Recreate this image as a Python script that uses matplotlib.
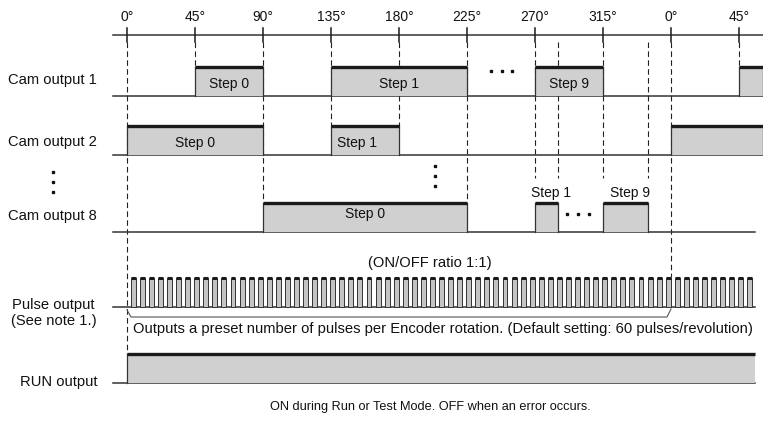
import matplotlib
matplotlib.use("Agg")
import matplotlib.pyplot as plt
from matplotlib.patches import Rectangle

plt.rcParams['font.family'] = ['Liberation Sans', 'DejaVu Sans']

# ---------------- data ----------------
tick_angles = [0, 45, 90, 135, 180, 225, 270, 315, 360, 405]
tick_labels = ["0°", "45°", "90°", "135°", "180°", "225°", "270°", "315°", "0°", "45°"]

END_FULL = 421.0     # right edge of the drawing (degrees)
END_ROW = 415.6      # right end of lower rows

cam1_on = [45, 135, 270, 405]
cam1_off = [90, 225, 315, END_FULL]
cam1_text = ["Step 0", "Step 1", "Step 9", ""]

cam2_on = [0, 135, 360]
cam2_off = [90, 180, END_FULL]
cam2_text = ["Step 0", "Step 1", ""]

cam8_on = [90, 270, 315]
cam8_off = [225, 285, 345]
cam8_text = ["Step 0", "Step 1", "Step 9"]

pulses_per_rev = 60
pulse_start = 2.5
run_on, run_off = 0, END_ROW

row_labels = ["Cam output 1", "Cam output 2", "Cam output 8", "Pulse output", "(See note 1.)", "RUN output"]

# ---------------- layout (pixel rows) ----------------
W, H = 763, 423
PX0, PXD = 127.0, 544.0 / 360.0


def X(px):
    return (px - PX0) / PXD


fig = plt.figure(figsize=(W / 100, H / 100), dpi=100)
ax = fig.add_axes([0, 0, 1, 1])
ax.set_xlim(X(0), X(W))
ax.set_ylim(H, 0)
ax.axis('off')

FS = 10
FSL = 10.6
BAR_FILL = '#d0d0d0'
EDGE = '#333333'
TOP = '#1a1a1a'
BAR_H = 29

AXIS_Y = 35
base = {'c1': 96, 'c2': 155, 'c8': 232, 'p': 307, 'run': 383}

# top axis
ax.plot([X(113), X(W)], [AXIS_Y, AXIS_Y], color=EDGE, lw=1.1)
for a, lab in zip(tick_angles, tick_labels):
    ax.plot([a, a], [AXIS_Y - 7, AXIS_Y + 7], color=TOP, lw=1.1)
    ax.text(a, 17, lab, ha='center', va='center', fontsize=FS, color='#111')

# dashed guide lines (bottom pixel row for each guide angle)
guide_bottom = {0: 354, 45: 66, 90: 202, 135: 126, 180: 126, 225: 202,
                270: 178, 285: 178, 315: 178, 345: 178, 360: 277, 405: 66}
for a, yb in guide_bottom.items():
    ax.plot([a, a], [AXIS_Y + 7, yb], color='#222', lw=0.8,
            dashes=(5, 3), zorder=1)


def draw_bar(y0, a, b, left=True, right=True):
    ax.add_patch(Rectangle((a, y0 - BAR_H), b - a, BAR_H, facecolor=BAR_FILL,
                           edgecolor='none', zorder=2))
    if left:
        ax.plot([a, a], [y0, y0 - BAR_H], color=EDGE, lw=0.9, zorder=3)
    if right:
        ax.plot([b, b], [y0, y0 - BAR_H], color=EDGE, lw=0.9, zorder=3)
    ax.plot([a, b], [y0 - BAR_H, y0 - BAR_H], color=TOP, lw=2.4,
            solid_capstyle='butt', zorder=4)


def draw_row(y0, ons, offs, texts, end, text_x=None):
    ax.plot([X(113), end], [y0, y0], color=EDGE, lw=1.1, zorder=2)
    for i, (a, b, t) in enumerate(zip(ons, offs, texts)):
        draw_bar(y0, a, b)
        if t:
            xc = (a + b) / 2 if text_x is None or text_x[i] is None else text_x[i]
            ax.text(xc, y0 - 12, t, ha='center', va='center', fontsize=FS, color='#111', zorder=5)


draw_row(base['c1'], cam1_on, cam1_off, cam1_text, END_FULL)
draw_row(base['c2'], cam2_on, cam2_off, cam2_text, END_FULL, text_x=[None, 152, None])

# cam 8: step 0 label inside, step 1/9 labels above bars
y8 = base['c8']
ax.plot([X(113), END_ROW], [y8, y8], color=EDGE, lw=1.1, zorder=2)
for a, b, t in zip(cam8_on, cam8_off, cam8_text):
    draw_bar(y8, a, b)
    if b - a > 60:
        ax.text((a + b) / 2, y8 - 18, t, ha='center', va='center', fontsize=FS, color='#111')
    else:
        ax.text((a + b) / 2 + 3, y8 - 39, t, ha='center', va='center', fontsize=FS, color='#111')

# ellipsis dots
ax.plot([241, 248, 255], [71, 71, 71], 's', color='#111', ms=2.0, lw=0)
ax.plot([291.5, 298.5, 305.5], [214, 214, 214], 's', color='#111', ms=2.0, lw=0)
ax.plot([X(53)] * 3, [172, 182, 192], 's', color='#111', ms=2.0, lw=0)
ax.plot([X(435)] * 3, [166, 176, 186], 's', color='#111', ms=2.0, lw=0)

# pulse train
yp = base['p']
ax.plot([X(113), END_ROW], [yp, yp], color=EDGE, lw=1.1, zorder=2)
period = 360.0 / pulses_per_rev
k = 0
while pulse_start + k * period + period * 0.55 <= END_ROW + 0.5:
    a = pulse_start + k * period
    b = a + period * 0.55
    ax.add_patch(Rectangle((a, yp - BAR_H), b - a, BAR_H, facecolor='#c4c4c4',
                           edgecolor='#333', lw=0.7, zorder=2))
    ax.plot([a, b], [yp - BAR_H, yp - BAR_H], color=TOP, lw=2.2,
            solid_capstyle='butt', zorder=4)
    k += 1
ax.text(X(430), 263, "(ON/OFF ratio 1:1)", ha='center', va='center', fontsize=FSL, color='#111')

# brace under pulse train
ax.plot([0, X(131), X(667), 360], [310, 317, 317, 309], color='#555', lw=0.8)
ax.text(X(133), 329, "Outputs a preset number of pulses per Encoder rotation. (Default setting: 60 pulses/revolution)",
        ha='left', va='center', fontsize=FSL, color='#111')

# RUN output
yr = base['run']
ax.plot([X(113), END_ROW], [yr, yr], color=EDGE, lw=1.1, zorder=2)
draw_bar(yr, run_on, run_off, right=False)
ax.text(X(430), 407, "ON during Run or Test Mode. OFF when an error occurs.",
        ha='center', va='center', fontsize=9.2, color='#111')

# row labels
ax.text(X(97), 80, row_labels[0], ha='right', va='center', fontsize=FSL, color='#111')
ax.text(X(97), 142, row_labels[1], ha='right', va='center', fontsize=FSL, color='#111')
ax.text(X(97), 216, row_labels[2], ha='right', va='center', fontsize=FSL, color='#111')
ax.text(X(53.5), 305, row_labels[3], ha='center', va='center', fontsize=FSL, color='#111')
ax.text(X(53.5), 321, row_labels[4], ha='center', va='center', fontsize=FSL, color='#111')
ax.text(X(97), 382, row_labels[5], ha='right', va='center', fontsize=FSL, color='#111')

fig.savefig("out.png", dpi=100)
